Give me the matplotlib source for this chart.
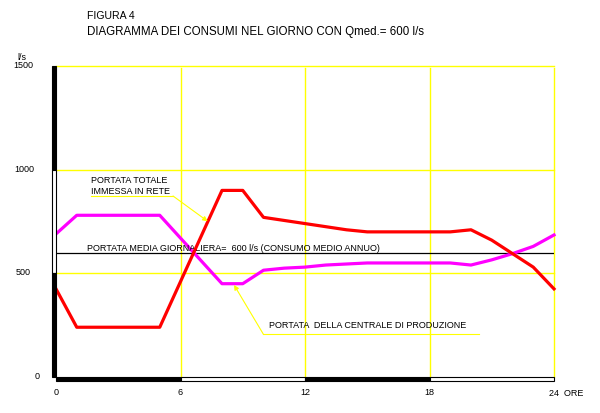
# Diagramma dei consumi nel giorno (Qmed = 600 l/s)
import matplotlib
matplotlib.use("Agg")
import matplotlib.pyplot as plt
from matplotlib.patches import Rectangle

plt.rcParams['font.family'] = ['Liberation Sans', 'DejaVu Sans']

# dati (ore 0..24, l/s)
ore = list(range(25))
portata_rossa = [425, 240, 240, 240, 240, 240, 460, 680, 900, 900, 770, 755, 740,
                 725, 710, 700, 700, 700, 700, 700, 710, 660, 595, 530, 425]
portata_magenta = [690, 780, 780, 780, 780, 780, 670, 560, 450, 450, 515, 525, 530,
                   540, 545, 550, 550, 550, 550, 550, 540, 565, 595, 630, 685]
q_media = 600
griglia_y = [500, 1000, 1500]
griglia_x = [6, 12, 18, 24]
etichette_y = ['0', '500', '1000', '1500']
valori_y = [0, 500, 1000, 1500]
etichette_x = ['0', '6', '12', '18', '24  ORE']
valori_x = [0, 6, 12, 18, 24]

W, H = 600, 414
fig = plt.figure(figsize=(W / 100, H / 100), dpi=100)
# area del grafico in pixel: x 56..554, y 67..378
ax = fig.add_axes([56 / W, 1 - 378 / H, 498 / W, 311 / H])
ax.set_xlim(0, 24)
ax.set_ylim(0, 1500)
ax.axis('off')

px_x = 24 / 498     # ore per pixel
px_y = 1500 / 311   # l/s per pixel

# griglia gialla
for v in griglia_y:
    ax.plot([0, 24], [v, v], color='#ffff00', lw=1, zorder=1, clip_on=False)
for v in griglia_x:
    ax.plot([v, v], [0, 1490], color='#ffff00', lw=1, zorder=1, clip_on=False)

# linea della portata media
ax.plot([0, 24], [q_media, q_media], color='black', lw=0.9, zorder=2)

# curve
ax.plot(ore, portata_magenta, color='#ff00ff', lw=2.3, zorder=3, clip_on=False)
ax.plot(ore, portata_rossa, color='#ff0000', lw=2.3, zorder=4, clip_on=False)

# assi a barre alterne nere/bianche
bw = 4 * px_x
for i, (y0, y1) in enumerate([(1000, 1500), (500, 1000), (0, 500)]):
    fc = 'black' if i % 2 == 0 else 'white'
    ax.add_patch(Rectangle((-bw, y0), bw, y1 - y0, facecolor=fc, edgecolor='black',
                           lw=0.8, clip_on=False, zorder=5))
bh = 4 * px_y
for i, (x0, x1) in enumerate([(0, 6), (6, 12), (12, 18), (18, 24)]):
    fc = 'black' if i % 2 == 0 else 'white'
    ax.add_patch(Rectangle((x0, -bh), x1 - x0, bh, facecolor=fc, edgecolor='black',
                           lw=0.8, clip_on=False, zorder=5))

# etichette asse y
pos_y_lab = [40, 31, 34, 33]
for lab, v, xp in zip(etichette_y, valori_y, pos_y_lab):
    fig.text(xp / W, 1 - (378 - v / px_y + 1) / H, lab, ha='right', va='baseline',
             fontsize=6.5)
fig.text(22 / W, 1 - 60 / H, 'l/s', ha='center', va='baseline', fontsize=6.5)

# etichette asse x
for lab, v in zip(etichette_x, valori_x):
    if v == 24:
        fig.text(549 / W, 1 - 396 / H, lab, ha='left', va='baseline', fontsize=6.5)
    else:
        ax.text(v, -17.5 * px_y, lab, ha='center', va='baseline', fontsize=6.5,
                clip_on=False)

# titoli
fig.text(87 / W, 1 - 19 / H, 'FIGURA 4', fontsize=7.6, va='baseline')
fig.text(87 / W, 1 - 35.5 / H, 'DIAGRAMMA DEI CONSUMI NEL GIORNO CON Qmed.= 600 l/s',
         fontsize=8.3, va='baseline')

# annotazioni
ax.text(1.69, 941, 'PORTATA TOTALE', fontsize=6.5, va='baseline')
ax.text(1.69, 888, 'IMMESSA IN RETE', fontsize=6.5, va='baseline')
ax.plot([1.69, 5.64], [873, 873], color='#ffff00', lw=0.8, zorder=2)
ax.annotate('', xy=(7.31, 751), xytext=(5.64, 873),
            arrowprops=dict(arrowstyle='-|>', color='#ffff00', lw=0.8,
                            mutation_scale=7, shrinkA=0, shrinkB=0), zorder=6)

ax.text(1.49, 613, 'PORTATA MEDIA GIORNALIERA=  600 l/s (CONSUMO MEDIO ANNUO)',
        fontsize=6.5, va='baseline')

ax.text(10.28, 240, 'PORTATA  DELLA CENTRALE DI PRODUZIONE', fontsize=6.5,
        va='baseline')
ax.plot([9.99, 20.39], [207, 207], color='#ffff00', lw=0.8, zorder=2)
ax.annotate('', xy=(8.58, 444), xytext=(9.99, 207),
            arrowprops=dict(arrowstyle='-|>', color='#ffff00', lw=0.8,
                            mutation_scale=7, shrinkA=0, shrinkB=0), zorder=6)

fig.savefig('out.png', dpi=100)
